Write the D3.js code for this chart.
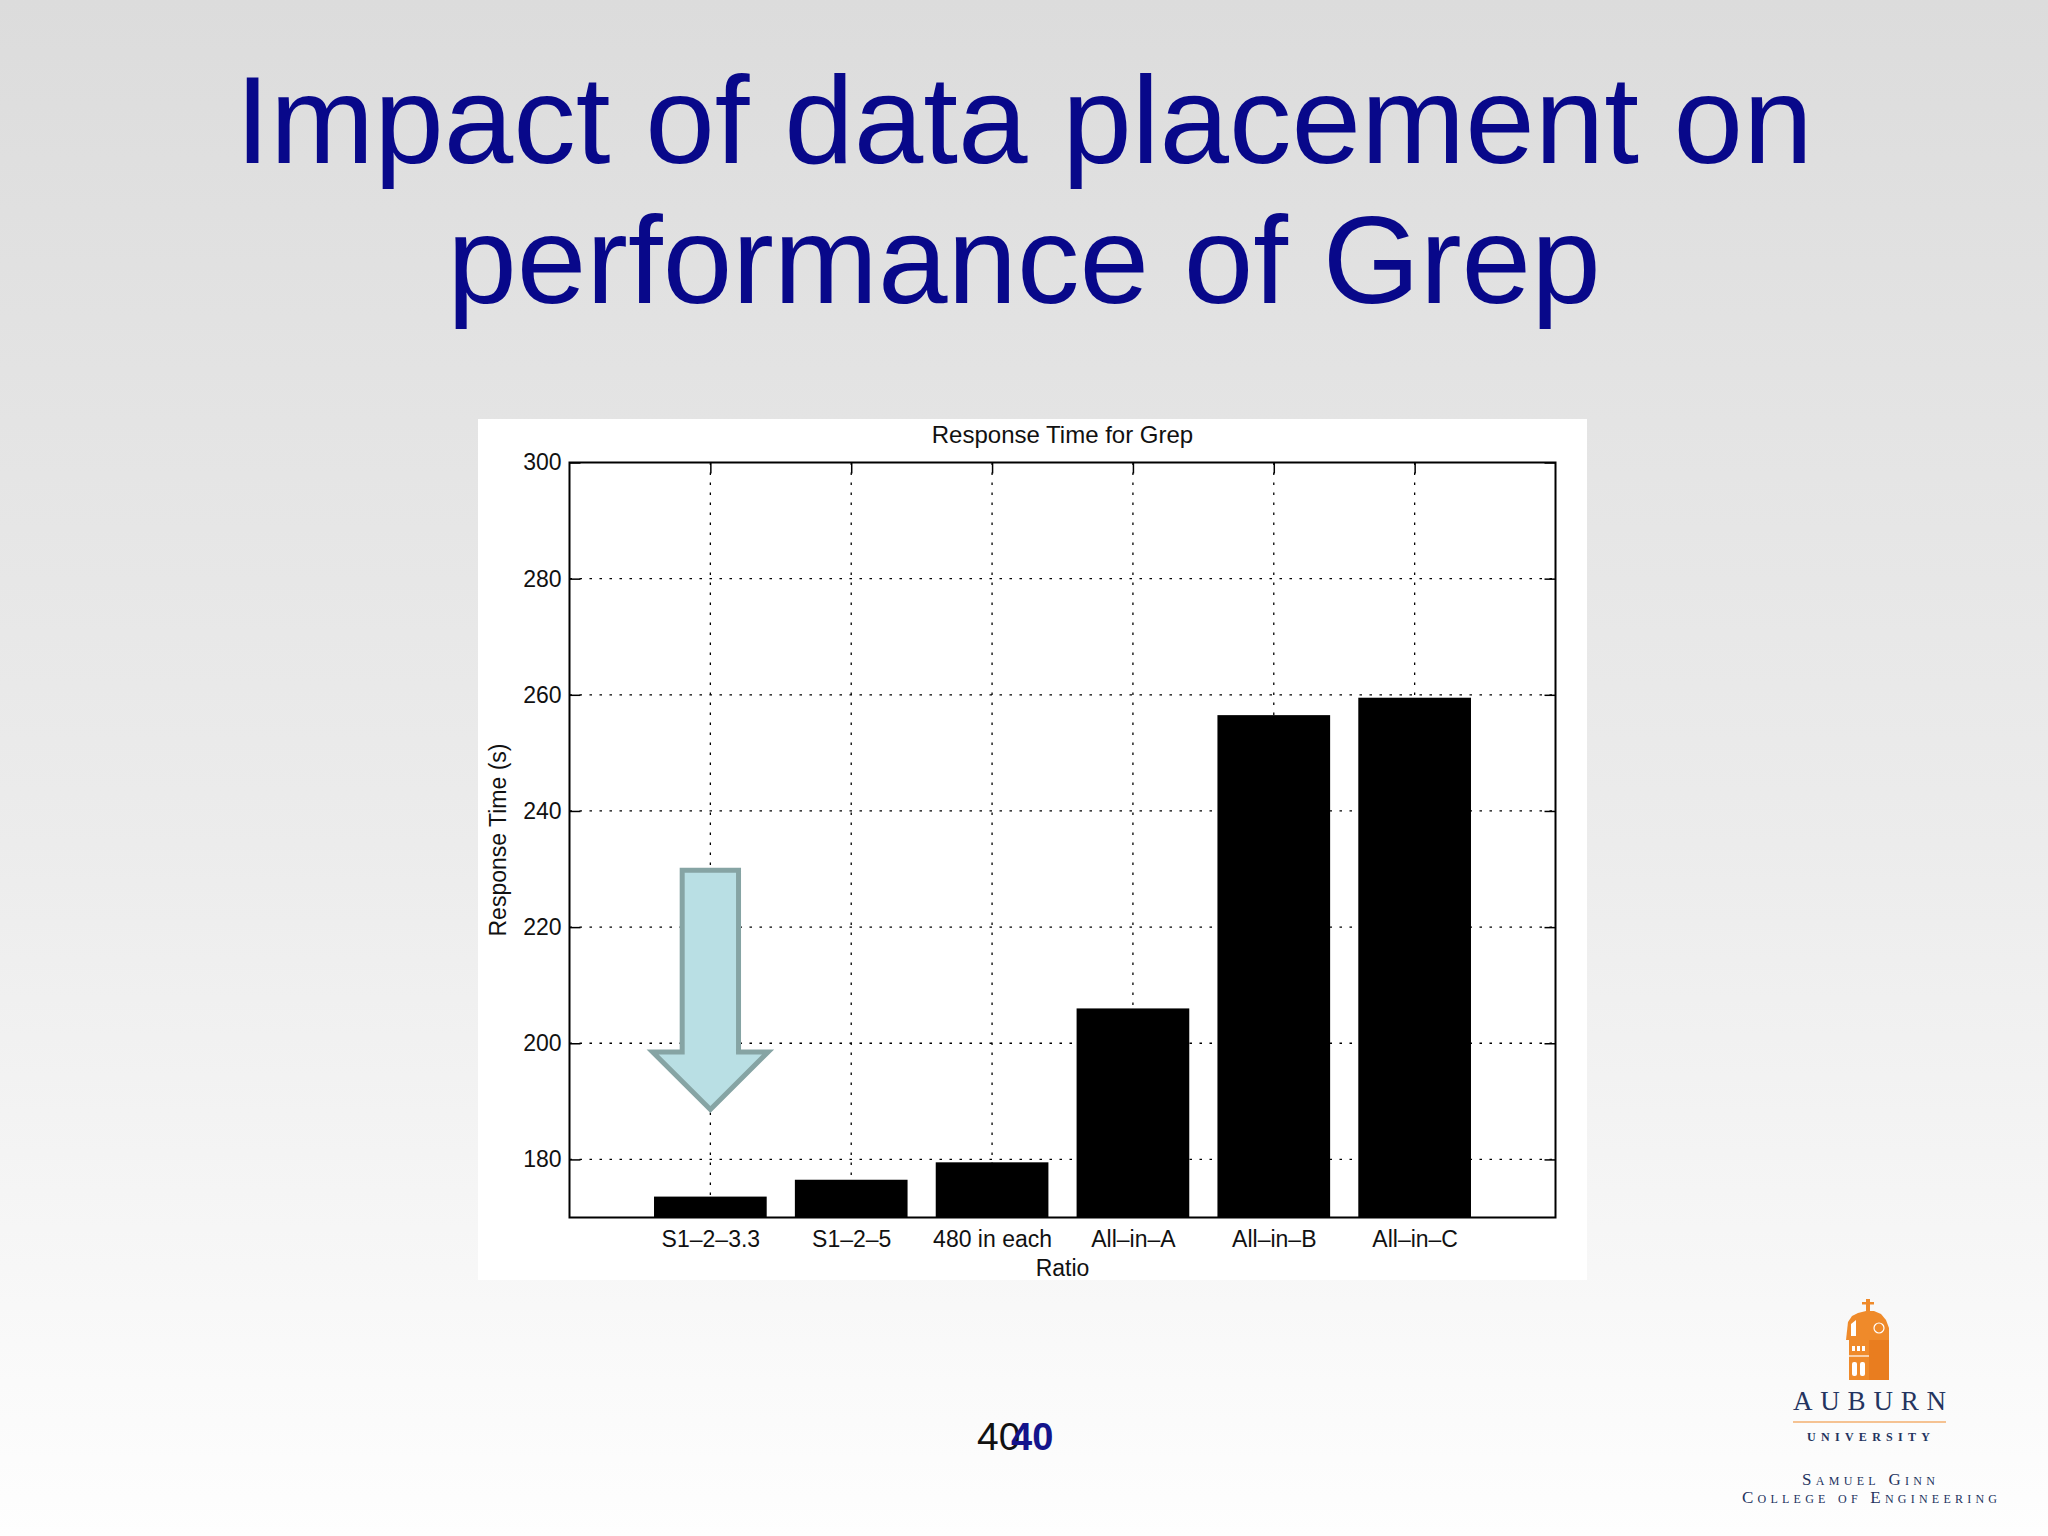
<!DOCTYPE html>
<html>
<head>
<meta charset="utf-8">
<script src="https://cdn.jsdelivr.net/npm/d3@7"></script>
<style>
  html, body { margin: 0; padding: 0; }
  svg { display: block; }
</style>
</head>
<body>
<script>
// ---- data ----
const categories = ["S1–2–3.3", "S1–2–5", "480 in each", "All–in–A", "All–in–B", "All–in–C"];
const responseTimes = [173.6, 176.5, 179.5, 206.0, 256.5, 259.5];
const yTickValues = [180, 200, 220, 240, 260, 280, 300];
const yDomain = [170, 300];
const slideTitle = ["Impact of data placement on", "performance of Grep"];
const chartTitle = "Response Time for Grep";
const yLabel = "Response Time (s)";
const xLabel = "Ratio";
const pageNumber = "40";

const W = 2048, H = 1536;
const FONT = "'Liberation Sans', Arial, Helvetica, sans-serif";
const SERIF = "'Liberation Serif', 'DejaVu Serif', 'Times New Roman', serif";

const svg = d3.select("body").append("svg").attr("width", W).attr("height", H);

// background gradient
const defs = svg.append("defs");
const grad = defs.append("linearGradient").attr("id", "bg").attr("x1", 0).attr("y1", 0).attr("x2", 0).attr("y2", 1);
grad.append("stop").attr("offset", "0").attr("stop-color", "#dcdcdc");
grad.append("stop").attr("offset", "0.55").attr("stop-color", "#ececec");
grad.append("stop").attr("offset", "1").attr("stop-color", "#fefefe");
svg.append("rect").attr("width", W).attr("height", H).attr("fill", "url(#bg)");

// slide title
svg.append("g").selectAll("text").data(slideTitle).join("text")
  .attr("x", 1024).attr("y", (d, i) => 163 + i * 140)
  .attr("text-anchor", "middle")
  .attr("font-family", FONT).attr("font-size", 125)
  .attr("fill", "#08088a")
  .text(d => d);

// chart panel
svg.append("rect").attr("x", 478).attr("y", 419).attr("width", 1109).attr("height", 861).attr("fill", "#ffffff");

const plot = { left: 569.5, right: 1555.5, top: 462.5, bottom: 1217.5 };
const x = d3.scaleLinear().domain([0, categories.length + 1]).range([plot.left, plot.right]);
const y = d3.scaleLinear().domain(yDomain).range([plot.bottom, plot.top]);
const unit = x(1) - x(0);
const pw = plot.right - plot.left, ph = plot.bottom - plot.top;

const g = svg.append("g");
const dotted = "2.5,7.5";

// grid lines (behind bars)
g.append("g").selectAll("line").data(yTickValues.filter(v => v < yDomain[1])).join("line")
  .attr("x1", plot.left).attr("x2", plot.right)
  .attr("y1", d => y(d)).attr("y2", d => y(d))
  .attr("stroke", "#000").attr("stroke-width", 1.3).attr("stroke-dasharray", dotted);
g.append("g").selectAll("line").data(categories).join("line")
  .attr("x1", (d, i) => x(i + 1)).attr("x2", (d, i) => x(i + 1))
  .attr("y1", plot.top).attr("y2", plot.bottom)
  .attr("stroke", "#000").attr("stroke-width", 1.3).attr("stroke-dasharray", dotted);

// axes with inward ticks
const yAxisL = d3.axisLeft(y).tickValues(yTickValues).tickSize(-11).tickPadding(8);
const yAxisR = d3.axisRight(y).tickValues(yTickValues).tickSize(-11).tickFormat("");
const xIdx = categories.map((d, i) => i + 1);
const xAxisB = d3.axisBottom(x).tickValues(xIdx).tickSize(-11).tickPadding(13)
  .tickFormat(i => categories[i - 1]);
const xAxisT = d3.axisTop(x).tickValues(xIdx).tickSize(-11).tickFormat("");

function styleAxis(sel) {
  sel.select(".domain").remove();
  sel.selectAll(".tick line").attr("stroke", "#000").attr("stroke-width", 1.5);
  sel.selectAll("text").attr("font-family", FONT).attr("font-size", 23).attr("fill", "#111");
}
g.append("g").attr("transform", `translate(${plot.left},0)`).call(yAxisL).call(styleAxis);
g.append("g").attr("transform", `translate(${plot.right},0)`).call(yAxisR).call(styleAxis);
g.append("g").attr("transform", `translate(0,${plot.bottom})`).call(xAxisB).call(styleAxis);
g.append("g").attr("transform", `translate(0,${plot.top})`).call(xAxisT).call(styleAxis);

// bars
g.append("g").selectAll("rect").data(responseTimes).join("rect")
  .attr("x", (d, i) => x(i + 1) - unit * 0.4)
  .attr("width", unit * 0.8)
  .attr("y", d => y(d))
  .attr("height", d => y(yDomain[0]) - y(d))
  .attr("fill", "#000");

// plot box
g.append("rect").attr("x", plot.left).attr("y", plot.top).attr("width", pw).attr("height", ph)
  .attr("fill", "none").attr("stroke", "#000").attr("stroke-width", 2);

// chart texts
g.append("text").attr("x", (plot.left + plot.right) / 2).attr("y", 443)
  .attr("text-anchor", "middle").attr("font-family", FONT).attr("font-size", 24).attr("fill", "#111")
  .text(chartTitle);
g.append("text").attr("x", (plot.left + plot.right) / 2).attr("y", 1276)
  .attr("text-anchor", "middle").attr("font-family", FONT).attr("font-size", 23).attr("fill", "#111")
  .text(xLabel);
g.append("text").attr("transform", `translate(506,840) rotate(-90)`)
  .attr("text-anchor", "middle").attr("font-family", FONT).attr("font-size", 23).attr("fill", "#111")
  .text(yLabel);

// annotation arrow pointing at the first bar
const ax = x(1);
const sh = unit * 0.2, hh = unit * 0.41;
const yTop = y(229.8), yHead = y(198.5), yTip = y(188.6);
const arrowPts = [
  [ax - sh, yTop], [ax + sh, yTop], [ax + sh, yHead], [ax + hh, yHead],
  [ax, yTip], [ax - hh, yHead], [ax - sh, yHead]
];
g.append("path").attr("d", d3.line()(arrowPts) + "Z")
  .attr("fill", "#b9dfe4").attr("stroke", "#86a4a4").attr("stroke-width", 5)
  .attr("stroke-linejoin", "miter");

// page number (two overlapping copies, as on the slide)
svg.append("text").attr("x", 977).attr("y", 1450).attr("font-family", FONT).attr("font-size", 39)
  .attr("fill", "#111").text(pageNumber);
svg.append("text").attr("x", 1011).attr("y", 1450).attr("font-family", FONT).attr("font-size", 38)
  .attr("font-weight", "bold").attr("fill", "#14148c").text(pageNumber);

// logo
const logo = svg.append("g");
const orange = "#ef8a2a", navy = "#24345f";
logo.append("rect").attr("x", 1849).attr("y", 1338).attr("width", 40).attr("height", 42).attr("fill", orange);
logo.append("rect").attr("x", 1869).attr("y", 1338).attr("width", 20).attr("height", 42).attr("fill", "#e97d1f");
logo.append("path").attr("d", "M1846,1340 L1848,1322 L1852,1316 L1858,1313 L1866,1311 L1874,1311 L1881,1314 L1886,1320 L1889,1328 L1889,1340 Z").attr("fill", orange);
logo.append("circle").attr("cx", 1879).attr("cy", 1328).attr("r", 5).attr("fill", "none").attr("stroke", "#fff").attr("stroke-width", 1.2);
logo.append("path").attr("d", "M1851,1336 L1851,1324 L1856,1320 L1856,1336 Z").attr("fill", "#fff");
logo.append("rect").attr("x", 1866).attr("y", 1299).attr("width", 4).attr("height", 13).attr("fill", orange);
logo.append("rect").attr("x", 1862).attr("y", 1302).attr("width", 12).attr("height", 2.5).attr("fill", orange);
[[1852, 1346], [1857, 1346], [1862, 1346]].forEach(p =>
  logo.append("rect").attr("x", p[0]).attr("y", p[1]).attr("width", 3).attr("height", 5).attr("fill", "#fff"));
[[1852, 1362], [1860, 1362]].forEach(p =>
  logo.append("rect").attr("x", p[0]).attr("y", p[1]).attr("width", 5).attr("height", 14).attr("rx", 2).attr("fill", "#fff"));
logo.append("line").attr("x1", 1849).attr("x2", 1869).attr("y1", 1356).attr("y2", 1356).attr("stroke", "#fff").attr("stroke-width", 1.2);

logo.append("text").attr("x", 1793).attr("y", 1410).attr("textLength", 153).attr("lengthAdjust", "spacing")
  .attr("font-family", SERIF).attr("font-size", 27).attr("fill", navy).text("AUBURN");
logo.append("line").attr("x1", 1793).attr("x2", 1946).attr("y1", 1422).attr("y2", 1422)
  .attr("stroke", orange).attr("stroke-width", 1.2);
logo.append("text").attr("x", 1807).attr("y", 1441).attr("textLength", 123).attr("lengthAdjust", "spacing")
  .attr("font-family", SERIF).attr("font-size", 12).attr("font-weight", "bold").attr("fill", navy).text("UNIVERSITY");
logo.append("text").attr("x", 1802).attr("y", 1485).attr("textLength", 133).attr("lengthAdjust", "spacing")
  .attr("font-family", SERIF).attr("font-size", 17).attr("font-variant", "small-caps").attr("fill", navy).text("Samuel Ginn");
logo.append("text").attr("x", 1742).attr("y", 1503).attr("textLength", 255).attr("lengthAdjust", "spacing")
  .attr("font-family", SERIF).attr("font-size", 17).attr("font-variant", "small-caps").attr("fill", navy).text("College of Engineering");
</script>
</body>
</html>
